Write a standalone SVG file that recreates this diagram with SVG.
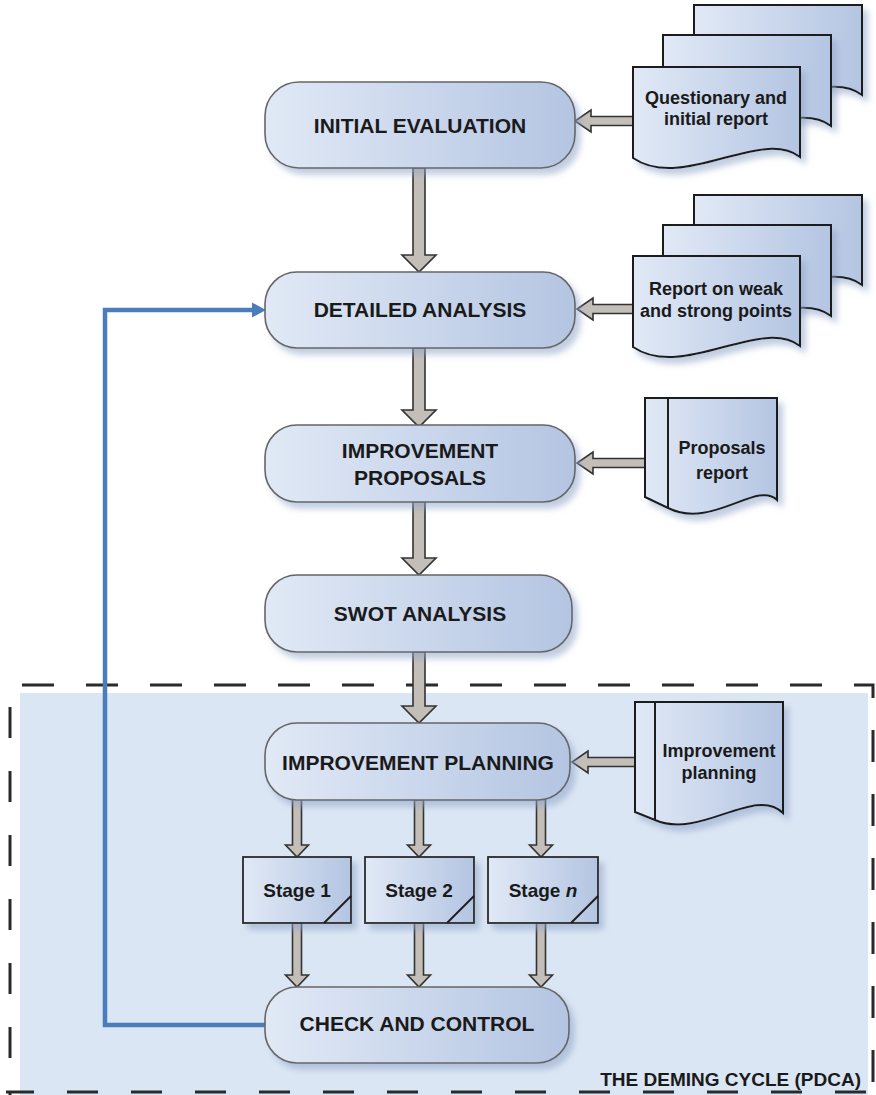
<svg xmlns="http://www.w3.org/2000/svg" width="876" height="1095" viewBox="0 0 876 1095">
<defs>
<linearGradient id="g" x1="0" y1="0" x2="1" y2="0">
<stop offset="0" stop-color="#e1e9f6"/>
<stop offset="1" stop-color="#b4c5e2"/>
</linearGradient>
<filter id="sh" x="-10%" y="-10%" width="130%" height="140%">
<feGaussianBlur in="SourceAlpha" stdDeviation="3"/>
<feOffset dx="5" dy="6" result="b"/>
<feFlood flood-color="#8fa4c8" flood-opacity="0.55"/>
<feComposite in2="b" operator="in"/>
<feMerge><feMergeNode/><feMergeNode in="SourceGraphic"/></feMerge>
</filter>
<style>
.pill{fill:url(#g);stroke:#666;stroke-width:1.6;filter:url(#sh)}
.doc{fill:url(#g);stroke:#1e1e1e;stroke-width:2;filter:url(#sh)}
.box{fill:url(#g);stroke:#2a2a2a;stroke-width:1.8;filter:url(#sh)}
.ln{fill:none;stroke:#1e1e1e;stroke-width:2}
.arr{fill:#c4beb8;stroke:#333;stroke-width:1.6;stroke-linejoin:miter}
.t{font-family:"Liberation Sans",Arial,sans-serif;font-weight:bold;fill:#1a1a1a;text-anchor:middle}
.big{font-size:21px}
.sm{font-size:18px}
.dash{fill:none;stroke:#2a2a2a;stroke-width:3}
</style>
</defs>
<rect width="876" height="1095" fill="#fff"/>
<g id="deming-area">
<rect x="20" y="693" width="848" height="402" fill="#dbe6f4"/>
<path class="dash" d="M22,685 H873 V1092" stroke-dasharray="32 32"/>
<path class="dash" d="M866,1092 H6" stroke-dasharray="31 33"/>
<path class="dash" d="M10,707 V1095" stroke-dasharray="31 33"/>
<text class="t" x="861" y="1086" style="font-size:19px;text-anchor:end">THE DEMING CYCLE (PDCA)</text>
</g>
<g id="connectors">
<polygon class="arr" points="413,168 425,168 425,255 436,255 419,272 402,255 413,255"/>
<polygon class="arr" points="413,348 425,348 425,410 436,410 419,427 402,410 413,410"/>
<polygon class="arr" points="413,502 425,502 425,558 436,558 419,575 402,558 413,558"/>
<polygon class="arr" points="413,652 425,652 425,706 436,706 419,723 402,706 413,706"/>
<polygon class="arr" points="292.5,798 301.5,798 301.5,845 308.5,845 297,857 285.5,845 292.5,845"/>
<polygon class="arr" points="414.5,800 423.5,800 423.5,845 430.5,845 419,857 407.5,845 414.5,845"/>
<polygon class="arr" points="536.5,798 545.5,798 545.5,845 552.5,845 541,857 529.5,845 536.5,845"/>
<polygon class="arr" points="292.5,923 301.5,923 301.5,975 308.5,975 297,987 285.5,975 292.5,975"/>
<polygon class="arr" points="414.5,923 423.5,923 423.5,975 430.5,975 419,987 407.5,975 414.5,975"/>
<polygon class="arr" points="536.5,923 545.5,923 545.5,975 552.5,975 541,987 529.5,975 536.5,975"/>
<polygon class="arr" points="633,116.5 591,116.5 591,110 575,121 591,132 591,125.5 633,125.5"/>
<polygon class="arr" points="633,304.5 593,304.5 593,298 577,309 593,320 593,313.5 633,313.5"/>
<polygon class="arr" points="645,458.5 593,458.5 593,452 577,463 593,474 593,467.5 645,467.5"/>
<polygon class="arr" points="635,757.5 588,757.5 588,751 572,762 588,773 588,766.5 635,766.5"/>
<path d="M265,1025 H105 V310 H254" fill="none" stroke="#4a7eba" stroke-width="4.5"/>
<polygon points="252,302.5 266,310 252,317.5" fill="#4a7eba"/>
</g>
<g id="doc-stack-1">
<path class="doc" d="M694,5 H862 V95 C822,65 744,130 694,96 Z"/>
<path class="doc" d="M663,35 H831 V126 C791,96 713,161 663,127 Z"/>
<path class="doc" d="M633,67 H800 V157 C760,127 683,192 633,158 Z"/>
<text class="t sm" x="716" y="103.5">Questionary and</text>
<text class="t sm" x="716" y="124.5">initial report</text>
</g>
<g id="initial-evaluation">
<rect class="pill" x="265" y="82" width="310" height="86" rx="34"/>
<text class="t big" x="420" y="132.5">INITIAL EVALUATION</text>
</g>
<g id="doc-stack-2">
<path class="doc" d="M694,195 H862 V285 C822,255 744,320 694,286 Z"/>
<path class="doc" d="M663,225 H831 V316 C791,286 713,351 663,317 Z"/>
<path class="doc" d="M633,256 H800 V346 C760,316 683,381 633,347 Z"/>
<text class="t sm" x="716" y="294.5">Report on weak</text>
<text class="t sm" x="716" y="316.5">and strong points</text>
</g>
<g id="detailed-analysis">
<rect class="pill" x="265" y="272" width="310" height="76" rx="32"/>
<text class="t big" x="420" y="316.5">DETAILED ANALYSIS</text>
</g>
<g id="proposals-report">
<path class="doc" d="M645,398 H777 V500 C757,480 712,530 668,508 L645,497 Z"/>
<line class="ln" x1="668" y1="398" x2="668" y2="508"/>
<text class="t sm" x="722" y="453.5">Proposals</text>
<text class="t sm" x="722" y="478.5">report</text>
</g>
<g id="improvement-proposals">
<rect class="pill" x="265" y="425" width="310" height="77" rx="32"/>
<text class="t big" x="420" y="457.5">IMPROVEMENT</text>
<text class="t big" x="420" y="484.5">PROPOSALS</text>
</g>
<g id="swot-analysis">
<rect class="pill" x="265" y="575" width="307" height="77" rx="32"/>
<text class="t big" x="420" y="620.5">SWOT ANALYSIS</text>
</g>
<g id="improvement-planning-doc">
<path class="doc" d="M635,702 H783 V813 C755,785 700,840 655,820 L635,812 Z"/>
<line class="ln" x1="655" y1="702" x2="655" y2="820"/>
<text class="t sm" x="719" y="756.5">Improvement</text>
<text class="t sm" x="719" y="778.5">planning</text>
</g>
<g id="improvement-planning">
<rect class="pill" x="265" y="723" width="305" height="77" rx="32"/>
<text class="t big" x="418" y="769.5">IMPROVEMENT PLANNING</text>
</g>
<g id="stage-1">
<rect class="box" x="243" y="857" width="108" height="66"/>
<line class="ln" x1="324" y1="923" x2="351" y2="896" stroke-width="1.8"/>
<text class="t" x="297" y="897" style="font-size:19px">Stage 1</text>
</g>
<g id="stage-2">
<rect class="box" x="365" y="857" width="109" height="66"/>
<line class="ln" x1="447" y1="923" x2="474" y2="896" stroke-width="1.8"/>
<text class="t" x="419" y="897" style="font-size:19px">Stage 2</text>
</g>
<g id="stage-n">
<rect class="box" x="488" y="857" width="110" height="66"/>
<line class="ln" x1="571" y1="923" x2="598" y2="896" stroke-width="1.8"/>
<text class="t" x="543" y="897" style="font-size:19px">Stage <tspan font-style="italic">n</tspan></text>
</g>
<g id="check-and-control">
<rect class="pill" x="265" y="987" width="304" height="76" rx="32"/>
<text class="t big" x="417" y="1030.5">CHECK AND CONTROL</text>
</g>
</svg>
